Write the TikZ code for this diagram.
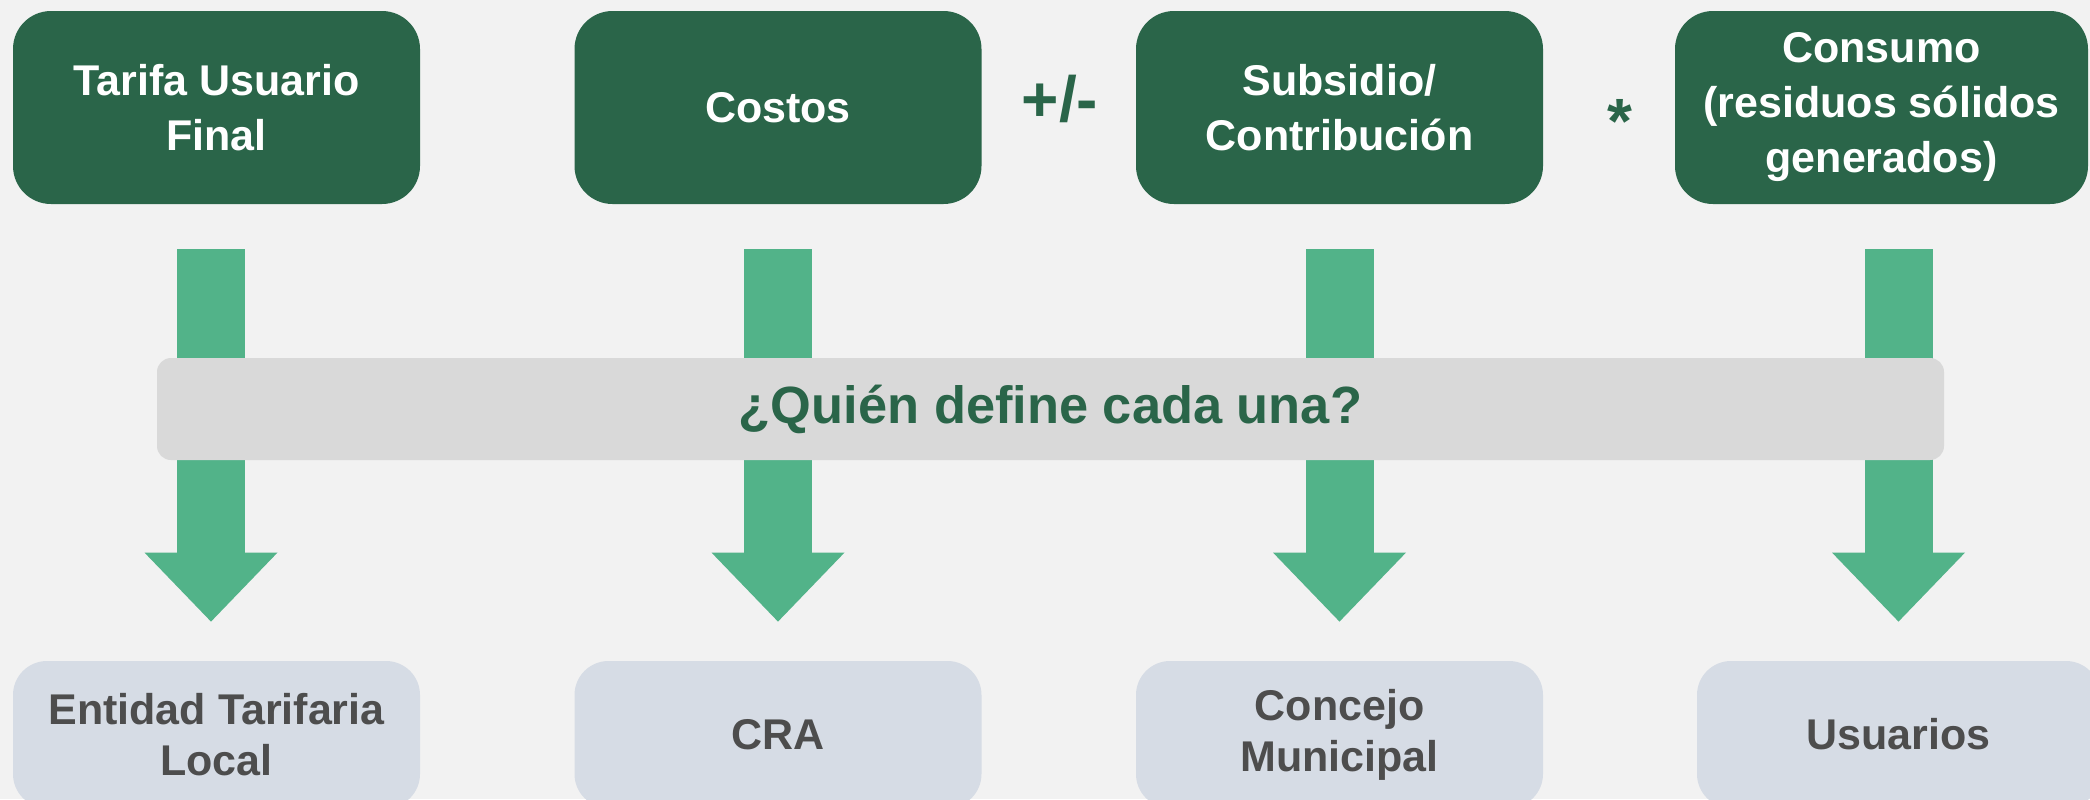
\documentclass[tikz,border=0pt]{standalone}
\usepackage{fontspec}
\setmainfont{Liberation Sans}
\usetikzlibrary{arrows.meta}

\definecolor{verdeosc}{RGB}{42,101,73}
\definecolor{verdeflecha}{RGB}{82,179,137}
\definecolor{grisbanda}{RGB}{217,217,217}
\definecolor{grisazul}{RGB}{214,220,229}
\definecolor{textogris}{RGB}{77,77,77}
\definecolor{fondo}{RGB}{242,242,242}

\tikzset{
  concepto/.style={fill=verdeosc, text=white, rounded corners=19pt, minimum width=203.5pt, minimum height=96.5pt, align=center, font=\bfseries\fontsize{21.5}{27.5}\selectfont},
  responsable/.style={fill=grisazul, text=textogris, rounded corners=17pt, minimum width=203.5pt, minimum height=73.5pt, align=center, font=\bfseries\fontsize{21.5}{25.5}\selectfont},
  flecha/.style={verdeflecha, line width=34pt, -{Triangle[width=66.5pt,length=34.5pt,line width=0pt]}, shorten <=22.5pt, shorten >=19.5pt},
  operador/.style={text=verdeosc, inner sep=0pt, anchor=base, font=\bfseries\fontsize{32}{38}\selectfont}
}

\begin{document}
\begin{tikzpicture}[x=0.5pt,y=-0.5pt]
        \useasboundingbox (0,0) rectangle (2090,799);
        \clip (0,0) rectangle (2090,799);
        \fill[fondo] (0,0) rectangle (2090,799);

        \node[concepto] (tarifa) at (216.5,107.5) {Tarifa Usuario\\Final};
        \node[concepto] (costos) at (778,107.5) {Costos};
        \node[concepto] (subsidio) at (1339.5,107.5) {Subsidio/\\Contribución};
        \node[concepto, minimum width=206.5pt] (consumo) at (1881.5,107.5) {Consumo\\(residuos sólidos\\generados)};

        \node[operador] (masmenos) at (1060,121) {+/-};
        \node[operador] (por) at (1620,143) {*};

        \node[responsable] (entidad) at (216.5,734.5) {Entidad Tarifaria\\Local};
        \node[responsable] (cra) at (778,734.5) {CRA};
        \node[responsable] (concejo) at (1339.5,734.5) {Concejo\\Municipal};
        \node[responsable, minimum width=201.5pt] (usuarios) at (1898.5,734.5) {Usuarios};

        \draw[flecha] ([xshift=-2.75pt]entidad.north |- tarifa.south) -- ([xshift=-2.75pt]entidad.north);
        \draw[flecha] (cra.north |- costos.south) -- (cra.north);
        \draw[flecha] (concejo.north |- subsidio.south) -- (concejo.north);
        \draw[flecha] (usuarios.north |- consumo.south) -- (usuarios.north);

        \node[fill=grisbanda, text=verdeosc, rounded corners=7pt, minimum width=893.5pt, minimum height=51pt, font=\bfseries\fontsize{26.2}{31}\selectfont] (quien) at (1050.5,409) {¿Quién define cada una?};
    \end{tikzpicture}
\end{document}
